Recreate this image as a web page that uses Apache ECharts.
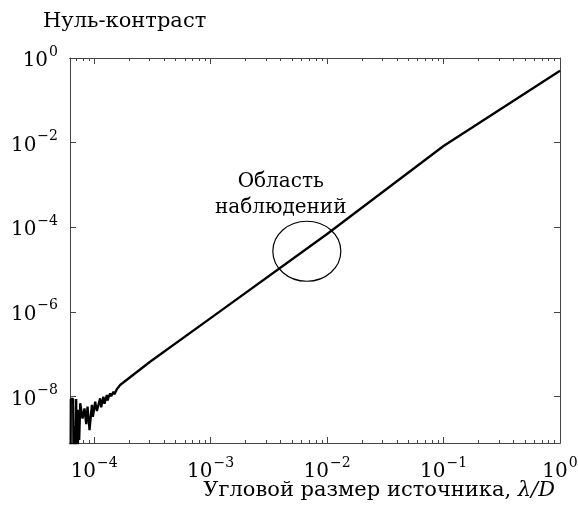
<!DOCTYPE html>
<html>
<head>
<meta charset="utf-8">
<script src="https://cdn.jsdelivr.net/npm/echarts@6/dist/echarts.min.js"></script>
<style>
html,body{margin:0;padding:0;background:#fff}
#main{width:578px;height:508px}
</style>
</head>
<body>
<div id="main"></div>
<script>
// угловой размер (λ/D) и нуль-контраст
var noiseX = [6.27e-5, 6.30e-5, 6.60e-5, 6.65e-5, 6.80e-5, 6.85e-5, 7.01e-5, 7.05e-5,
	7.15e-5, 7.22e-5, 7.30e-5, 7.44e-5,
	7.59e-5, 7.94e-5, 8.26e-5, 8.54e-5, 8.77e-5, 9.12e-5, 9.56e-5, 9.75e-5,
	1.02e-4, 1.055e-4, 1.125e-4, 1.148e-4, 1.20e-4, 1.226e-4, 1.285e-4, 1.30e-4,
	1.371e-4, 1.40e-4, 1.463e-4, 1.493e-4, 1.565e-4, 1.67e-4];
var noiseY = [1.8e-10, 8.7e-9, 8.7e-9, 1.8e-10, 2.0e-9, 1.8e-10, 8.7e-9, 1.8e-10,
	1.6e-9, 1.8e-10, 4.8e-9, 9.3e-10,
	6.9e-9, 3.0e-9, 5.2e-9, 2.2e-9, 5.7e-9, 1.6e-9, 6.3e-9, 3.3e-9,
	7.5e-9, 4.5e-9, 9.0e-9, 5.5e-9, 9.8e-9, 6.7e-9, 1.08e-8, 8.0e-9,
	1.18e-8, 1.0e-8, 1.29e-8, 1.12e-8, 1.47e-8, 1.86e-8];
var lineX = [3e-4, 1e-3, 1e-2, 1e-1, 1];
var lineY = [6.5e-8, 7.1e-7, 6.9e-5, 8.3e-3, 0.5];
var xTickPowers = [-4, -3, -2, -1, 0];
var yTickPowers = [0, -2, -4, -6, -8];
var xMin = 6.2e-5, xMax = 1;
var yMin = 7.9e-10, yMax = 1;
var ellipseCenter = [6.7e-3, 2.7e-5];
var noteAt = [4.0e-3, 5.9e-4];

var serif = 'DejaVu Serif';
var axisColor = '#444';

// данные в логарифмах, оси - обычные value
var pts = [];
for (var i = 0; i < noiseX.length; i++) pts.push([Math.log10(noiseX[i]), Math.log10(noiseY[i])]);
for (var j = 0; j < lineX.length; j++) pts.push([Math.log10(lineX[j]), Math.log10(lineY[j])]);

// мелкие деления 2..9 на оси x
var minorX = [];
for (var p = -5; p < 0; p++) {
	for (var k = 2; k <= 9; k++) {
		var v = Math.log10(k * Math.pow(10, p));
		if (v >= Math.log10(xMin) && v <= 0) minorX.push(v);
	}
}

function powLabel(v) {
	var n = Math.round(v);
	return '{b|10}{s|' + (n < 0 ? '\u2212' + (-n) : n) + '}';
}
var labelRich = {
	b: {fontFamily: serif, fontSize: 20, color: '#000', lineHeight: 26, verticalAlign: 'bottom'},
	s: {fontFamily: serif, fontSize: 14, color: '#000', lineHeight: 14, verticalAlign: 'top', padding: [0, 0, 0, 1]}
};

function xAxisDef(pos, major, labels) {
	return {
		type: 'value', position: pos, gridIndex: 0,
		min: Math.log10(xMin), max: Math.log10(xMax),
		axisLine: {show: true, onZero: false, lineStyle: {color: axisColor, width: 1}},
		splitLine: {show: false},
		axisTick: {show: true, inside: true, length: major ? 6 : 3,
			customValues: major ? xTickPowers : minorX,
			lineStyle: {color: axisColor, width: 1}},
		axisLabel: {show: labels, customValues: xTickPowers, formatter: powLabel,
			margin: 13, rich: labelRich}
	};
}
function yAxisDef(pos, labels) {
	return {
		type: 'value', position: pos, gridIndex: 0,
		min: Math.log10(yMin), max: Math.log10(yMax),
		axisLine: {show: true, onZero: false, lineStyle: {color: axisColor, width: 1}},
		splitLine: {show: false},
		axisTick: {show: true, inside: true, length: 6, customValues: yTickPowers,
			lineStyle: {color: axisColor, width: 1}},
		axisLabel: {show: labels, customValues: yTickPowers, formatter: powLabel,
			margin: 12, rich: labelRich}
	};
}

var myChart = echarts.init(document.getElementById('main'));
var option = {
	animation: false,
	backgroundColor: '#fff',
	title: [{
		text: 'Нуль-контраст', left: 38, top: 6,
		textStyle: {fontFamily: serif, fontSize: 21, fontWeight: 'normal', color: '#000'}
	}, {
		// подпись оси x
		text: '{t|Угловой размер источника, }{i|λ/D}', right: 18, top: 475,
		textStyle: {fontFamily: serif, fontSize: 21, fontWeight: 'normal', color: '#000',
			rich: {t: {fontFamily: serif, fontSize: 21, color: '#000'},
				i: {fontFamily: serif, fontSize: 21, fontStyle: 'italic', color: '#000'}}}
	}],
	grid: {left: 70, right: 18, top: 58, bottom: 65, containLabel: false, outerBoundsMode: 'none'},
	xAxis: [xAxisDef('bottom', true, true), xAxisDef('bottom', false, false), xAxisDef('top', true, false), xAxisDef('top', false, false)],
	yAxis: [yAxisDef('left', true), yAxisDef('right', false)],
	series: [{
		type: 'line',
		xAxisIndex: 0, yAxisIndex: 0,
		data: pts,
		showSymbol: false,
		clip: true,
		lineStyle: {color: '#000', width: 2.3},
		itemStyle: {color: '#000'}
	}]
};
myChart.setOption(option);

// овал "Область наблюдений"
var c = myChart.convertToPixel({xAxisIndex: 0, yAxisIndex: 0}, [Math.log10(ellipseCenter[0]), Math.log10(ellipseCenter[1])]);
var t = myChart.convertToPixel({xAxisIndex: 0, yAxisIndex: 0}, [Math.log10(noteAt[0]), Math.log10(noteAt[1])]);
myChart.setOption({
	graphic: [{
		type: 'ellipse',
		shape: {cx: c[0], cy: c[1], rx: 34, ry: 30},
		style: {fill: null, stroke: '#000', lineWidth: 1.2}
	}, {
		type: 'text',
		x: t[0], y: t[1],
		style: {text: 'Область\nнаблюдений', fontFamily: serif, fontSize: 20, lineHeight: 26,
			fill: '#000', align: 'center', verticalAlign: 'middle'}
	}]
});
</script>
</body>
</html>
